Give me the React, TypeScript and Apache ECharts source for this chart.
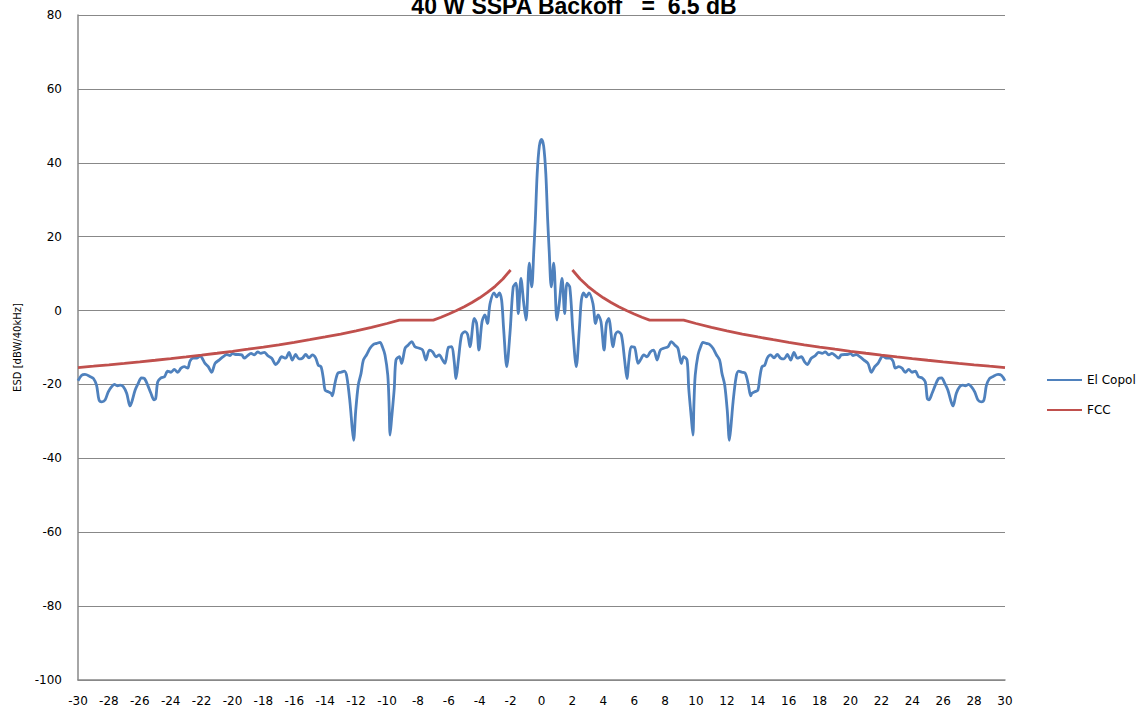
import React, { useEffect, useRef } from "react";
import * as echarts from "echarts";

const titleText = "40 W SSPA Backoff   =  6.5 dB";
const yAxisTitle = "ESD [dBW/40kHz]";
const seriesNames = ["El Copol", "FCC"];

// El Copol spectrum, left half (-30 .. 0)
const elCopolLeft: [number, number][] = [
  [-30.0, -19.0], [-29.76, -17.5], [-29.55, -17.3], [-29.2, -17.9], [-29.0, -18.4], [-28.8, -20.2],
  [-28.64, -24.2], [-28.47, -24.7], [-28.25, -24.2], [-28.04, -22.0], [-27.82, -20.6], [-27.65, -20.0],
  [-27.43, -20.4], [-27.28, -20.2], [-27.07, -20.6], [-26.85, -22.4], [-26.7, -25.1], [-26.63, -25.8],
  [-26.48, -24.2], [-26.3, -21.5], [-26.1, -19.7], [-25.9, -18.2], [-25.7, -18.4], [-25.49, -20.2],
  [-25.28, -22.4], [-25.08, -24.2], [-24.97, -23.8], [-24.84, -19.3], [-24.63, -18.2], [-24.4, -17.9],
  [-24.2, -16.4], [-23.98, -16.7], [-23.77, -15.9], [-23.55, -16.7], [-23.33, -15.6], [-23.12, -15.2],
  [-22.9, -15.6], [-22.75, -13.7], [-22.54, -12.9], [-22.32, -12.9], [-22.1, -12.3], [-21.78, -14.3],
  [-21.57, -15.2], [-21.35, -16.7], [-21.13, -14.3], [-20.87, -13.4], [-20.6, -12.5], [-20.38, -11.9],
  [-20.16, -12.2], [-20.0, -11.6], [-19.8, -11.9], [-19.62, -11.9], [-19.4, -12.0], [-19.24, -12.9],
  [-19.02, -12.2], [-18.8, -11.6], [-18.59, -12.0], [-18.37, -11.2], [-18.16, -11.6], [-17.94, -11.3],
  [-17.72, -12.2], [-17.46, -12.9], [-17.2, -14.6], [-17.03, -13.9], [-16.82, -12.5], [-16.56, -12.9],
  [-16.34, -11.3], [-16.13, -13.4], [-15.91, -11.9], [-15.7, -13.1], [-15.48, -12.9], [-15.26, -11.9],
  [-15.05, -12.8], [-14.83, -12.0], [-14.62, -12.8], [-14.45, -14.8], [-14.27, -15.2], [-14.12, -18.4],
  [-14.01, -21.5], [-13.8, -22.0], [-13.62, -22.4], [-13.54, -23.1], [-13.37, -19.7], [-13.19, -17.0],
  [-12.98, -16.7], [-12.76, -16.4], [-12.6, -17.9], [-12.4, -24.7], [-12.25, -31.9], [-12.16, -35.1],
  [-12.03, -27.4], [-11.86, -20.2], [-11.68, -17.0], [-11.53, -13.4], [-11.31, -11.9], [-11.1, -10.2],
  [-10.89, -9.2], [-10.67, -8.9], [-10.45, -8.6], [-10.3, -9.8], [-10.13, -12.0], [-9.95, -17.5],
  [-9.87, -24.7], [-9.8, -33.7], [-9.7, -29.2], [-9.53, -21.1], [-9.42, -13.4], [-9.2, -12.5],
  [-9.05, -14.3], [-8.83, -10.2], [-8.62, -9.3], [-8.4, -8.4], [-8.19, -9.8], [-7.91, -10.2],
  [-7.69, -10.7], [-7.48, -13.4], [-7.26, -10.7], [-7.04, -11.2], [-6.83, -12.5], [-6.62, -12.0],
  [-6.4, -13.4], [-6.25, -14.3], [-6.03, -10.0], [-5.81, -9.8], [-5.66, -13.4], [-5.53, -18.4],
  [-5.38, -13.4], [-5.17, -6.6], [-4.95, -5.7], [-4.78, -6.5], [-4.63, -9.8], [-4.35, -2.1],
  [-4.2, -3.5], [-4.05, -10.7], [-3.85, -3.0], [-3.66, -1.2], [-3.5, -3.5], [-3.33, 1.9],
  [-3.07, 4.8], [-2.9, 3.7], [-2.73, 4.8], [-2.58, 2.8], [-2.45, -5.0], [-2.25, -15.2],
  [-2.04, -6.1], [-1.83, 6.4], [-1.65, 7.4], [-1.5, -0.8], [-1.33, 8.7], [-1.15, 2.0],
  [-1.0, -2.6], [-0.79, 12.8], [-0.63, 6.4], [-0.5, 16.0], [-0.4, 24.5], [-0.28, 37.0],
  [-0.14, 44.5], [0, 46.3],
];

// El Copol spectrum, right half (0 .. 30)
const elCopolRight: [number, number][] = [
  [0.14, 44.5], [0.28, 37.0], [0.4, 24.5], [0.5, 16.0], [0.63, 6.4], [0.79, 12.8],
  [1.0, -2.6], [1.15, 2.0], [1.33, 8.7], [1.5, -0.8], [1.65, 7.4], [1.83, 6.4],
  [2.04, -6.1], [2.25, -15.2], [2.45, -5.0], [2.58, 2.8], [2.73, 4.8], [2.9, 3.7],
  [3.07, 4.8], [3.33, 1.9], [3.5, -3.5], [3.66, -1.2], [3.85, -3.0], [4.05, -10.7],
  [4.2, -3.5], [4.35, -2.1], [4.63, -9.8], [4.78, -6.5], [4.95, -5.7], [5.17, -6.6],
  [5.38, -13.4], [5.53, -18.4], [5.66, -13.4], [5.81, -9.8], [6.03, -10.0], [6.25, -14.3],
  [6.4, -13.4], [6.62, -12.0], [6.83, -12.5], [7.04, -11.2], [7.26, -10.7], [7.48, -13.4],
  [7.69, -10.7], [7.91, -10.2], [8.19, -9.8], [8.4, -8.4], [8.62, -9.3], [8.83, -10.2],
  [9.05, -14.3], [9.2, -12.5], [9.42, -13.4], [9.53, -21.1], [9.7, -29.2], [9.8, -33.7],
  [9.87, -24.7], [9.95, -17.5], [10.13, -12.0], [10.3, -9.8], [10.45, -8.6], [10.67, -8.9],
  [10.89, -9.2], [11.1, -10.2], [11.31, -11.9], [11.53, -13.4], [11.68, -17.0], [11.86, -20.2],
  [12.03, -27.4], [12.16, -35.1], [12.25, -31.9], [12.4, -24.7], [12.6, -17.9], [12.76, -16.4],
  [12.98, -16.7], [13.19, -17.0], [13.37, -19.7], [13.54, -23.1], [13.62, -22.4], [13.8, -22.0],
  [14.01, -21.5], [14.12, -18.4], [14.27, -15.2], [14.45, -14.8], [14.62, -12.8], [14.83, -12.0],
  [15.05, -12.8], [15.26, -11.9], [15.48, -12.9], [15.7, -13.1], [15.91, -11.9], [16.13, -13.4],
  [16.34, -11.3], [16.56, -12.9], [16.82, -12.5], [17.03, -13.9], [17.2, -14.6], [17.46, -12.9],
  [17.72, -12.2], [17.94, -11.3], [18.16, -11.6], [18.37, -11.2], [18.59, -12.0], [18.8, -11.6],
  [19.02, -12.2], [19.24, -12.9], [19.4, -12.0], [19.62, -11.9], [19.8, -11.9], [20.0, -11.6],
  [20.16, -12.2], [20.38, -11.9], [20.6, -12.5], [20.87, -13.4], [21.13, -14.3], [21.35, -16.7],
  [21.57, -15.2], [21.78, -14.3], [22.1, -12.3], [22.32, -12.9], [22.54, -12.9], [22.75, -13.7],
  [22.9, -15.6], [23.12, -15.2], [23.33, -15.6], [23.55, -16.7], [23.77, -15.9], [23.98, -16.7],
  [24.2, -16.4], [24.4, -17.9], [24.63, -18.2], [24.84, -19.3], [24.97, -23.8], [25.08, -24.2],
  [25.28, -22.4], [25.49, -20.2], [25.7, -18.4], [25.9, -18.2], [26.1, -19.7], [26.3, -21.5],
  [26.48, -24.2], [26.63, -25.8], [26.7, -25.1], [26.85, -22.4], [27.07, -20.6], [27.28, -20.2],
  [27.43, -20.4], [27.65, -20.0], [27.82, -20.6], [28.04, -22.0], [28.25, -24.2], [28.47, -24.7],
  [28.64, -24.2], [28.8, -20.2], [29.0, -18.4], [29.2, -17.9], [29.55, -17.3], [29.76, -17.5],
  [30.0, -19.0],
];

// FCC mask, left branch and right branch
const fccLeft: [number, number][] = [
  [-30, -15.43], [-29, -15.06], [-28, -14.68], [-27, -14.28], [-26, -13.87], [-25, -13.45],
  [-24, -13.01], [-23, -12.54], [-22, -12.06], [-21, -11.56], [-20, -11.03], [-19, -10.47],
  [-18, -9.88], [-17, -9.26], [-16, -8.6], [-15, -7.9], [-14, -7.15], [-13, -6.35],
  [-12, -5.48], [-11, -4.53], [-10, -3.5], [-9.2, -2.6], [-7, -2.6], [-6.5, -1.82],
  [-6, -0.95], [-5.5, -0.01], [-5, 1.03], [-4.5, 2.17], [-4, 3.45], [-3.5, 4.9],
  [-3, 6.57], [-2.5, 8.55], [-2, 10.97],
];
const fccRight: [number, number][] = [
  [2, 10.97], [2.5, 8.55], [3, 6.57], [3.5, 4.9], [4, 3.45], [4.5, 2.17],
  [5, 1.03], [5.5, -0.01], [6, -0.95], [6.5, -1.82], [7, -2.6], [9.2, -2.6],
  [10, -3.5], [11, -4.53], [12, -5.48], [13, -6.35], [14, -7.15], [15, -7.9],
  [16, -8.6], [17, -9.26], [18, -9.88], [19, -10.47], [20, -11.03], [21, -11.56],
  [22, -12.06], [23, -12.54], [24, -13.01], [25, -13.45], [26, -13.87], [27, -14.28],
  [28, -14.68], [29, -15.06], [30, -15.43],
];

const xMin = -30;
const xMax = 30;
const xStep = 2;
const yMin = -100;
const yMax = 80;
const yStep = 20;

export default function App() {
  const ref = useRef<HTMLDivElement>(null);
  useEffect(() => {
    if (!ref.current) return;
    const chart = echarts.init(ref.current, undefined, { renderer: "svg" });
    const font = "DejaVu Sans";
    chart.setOption({
      animation: false,
      backgroundColor: "#ffffff",
      title: {
        text: titleText,
        left: "center",
        top: -11,
        textStyle: { fontFamily: "Liberation Sans", fontWeight: "bold", fontSize: 23, color: "#000" },
      },
      grid: { left: 78, right: 143, top: 15, bottom: 33, containLabel: false },
      legend: {
        orient: "vertical",
        left: 1042,
        top: 369,
        itemWidth: 35,
        itemHeight: 14,
        itemGap: 18,
        icon: "path://M0,6 L35,6 L35,8 L0,8 Z",
        data: seriesNames,
        textStyle: { fontFamily: font, fontSize: 12, color: "#000" },
      },
      xAxis: {
        type: "value",
        min: xMin,
        max: xMax,
        interval: xStep,
        axisLine: { show: true, onZero: false, lineStyle: { color: "#888", width: 1.5 } },
        axisTick: { show: false },
        splitLine: { show: false },
        axisLabel: { fontFamily: font, fontSize: 12, color: "#000", margin: 15 },
      },
      yAxis: {
        type: "value",
        min: yMin,
        max: yMax,
        interval: yStep,
        name: yAxisTitle,
        nameLocation: "middle",
        nameGap: 56,
        nameTextStyle: { fontFamily: font, fontSize: 10, color: "#000" },
        axisLine: { show: true, onZero: false, lineStyle: { color: "#888", width: 1.5 } },
        axisTick: { show: false },
        splitLine: { show: true, lineStyle: { color: "#888", width: 1.2 } },
        axisLabel: { fontFamily: font, fontSize: 12, color: "#000", margin: 16 },
      },
      series: [
        {
          name: seriesNames[0],
          type: "line",
          data: [...elCopolLeft, ...elCopolRight],
          showSymbol: false,
          symbol: "none",
          smooth: 0.3,
          lineStyle: { color: "#4F81BD", width: 2.8 },
          itemStyle: { color: "#4F81BD" },
        },
        {
          name: seriesNames[1],
          type: "line",
          data: [...fccLeft, [0, "-"], ...fccRight],
          showSymbol: false,
          symbol: "none",
          connectNulls: false,
          lineStyle: { color: "#C0504D", width: 2.8 },
          itemStyle: { color: "#C0504D" },
        },
      ],
    });
    return () => chart.dispose();
  }, []);
  return (
    <div
      ref={ref}
      style={{ position: "absolute", left: 0, top: 0, width: 1148, height: 713, background: "#fff" }}
    />
  );
}
